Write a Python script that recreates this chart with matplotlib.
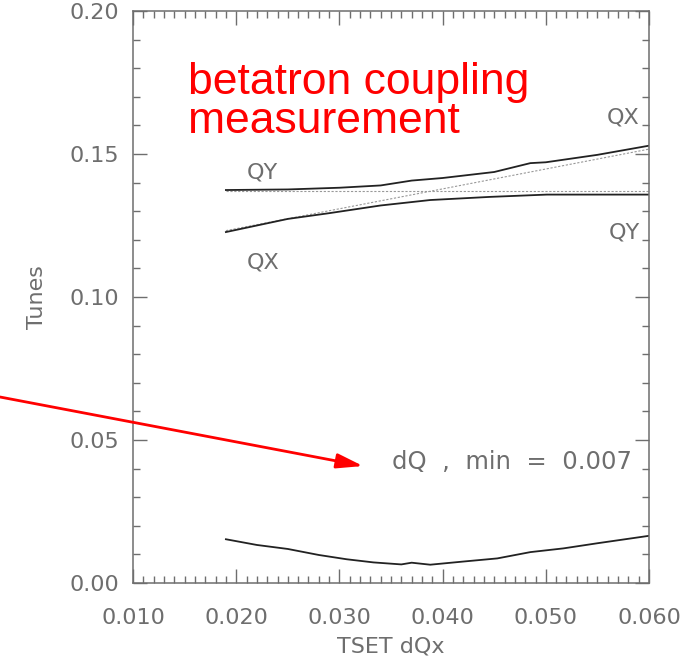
import matplotlib
matplotlib.use("Agg")
import matplotlib.pyplot as plt
from matplotlib.ticker import MultipleLocator

# measured coupled tunes vs. TSET dQx
tset_upper = [0.019, 0.025, 0.030, 0.034, 0.037, 0.040, 0.045, 0.0485, 0.050, 0.055, 0.060]
q_upper = [0.1374, 0.1376, 0.1382, 0.1390, 0.1407, 0.1416, 0.1437, 0.1468, 0.1471, 0.1497, 0.1529]

tset_lower = [0.019, 0.025, 0.029, 0.034, 0.0388, 0.0446, 0.0501, 0.055, 0.060]
q_lower = [0.1227, 0.1273, 0.1293, 0.1320, 0.1339, 0.1350, 0.1358, 0.1358, 0.1358]

# uncoupled (expected) tunes
tset_ref = [0.019, 0.060]
qx_ref = [0.1232, 0.1517]
qy_ref = [0.1371, 0.1371]

# tune split
tset_dq = [0.019, 0.022, 0.025, 0.028, 0.0307, 0.0333, 0.036, 0.037, 0.0388,
           0.042, 0.0453, 0.0485, 0.0517, 0.055, 0.060]
dq = [0.0153, 0.0133, 0.0119, 0.0098, 0.0083, 0.0072, 0.0065, 0.0071, 0.0064,
      0.0075, 0.0086, 0.0108, 0.0121, 0.0139, 0.0165]

GREY = "#6e6e6e"
LINE = "#222222"

fig = plt.figure(figsize=(6.99, 6.61), dpi=100)
ax = fig.add_axes([0.1903, 0.1180, 0.7382, 0.8654])

ax.plot(tset_ref, qx_ref, color="#999999", lw=0.8, ls=(0, (2, 1.5)))
ax.plot(tset_ref, qy_ref, color="#999999", lw=0.8, ls=(0, (2, 1.5)))
ax.plot(tset_upper, q_upper, color=LINE, lw=1.3)
ax.plot(tset_lower, q_lower, color=LINE, lw=1.3)
ax.plot(tset_dq, dq, color=LINE, lw=1.3)

ax.set_xlim(0.010, 0.060)
ax.set_ylim(0.0, 0.20)
ax.xaxis.set_major_locator(MultipleLocator(0.010))
ax.xaxis.set_minor_locator(MultipleLocator(0.001))
ax.yaxis.set_major_locator(MultipleLocator(0.05))
ax.yaxis.set_minor_locator(MultipleLocator(0.01))
ax.xaxis.set_major_formatter(plt.FormatStrFormatter("%.3f"))
ax.yaxis.set_major_formatter(plt.FormatStrFormatter("%.2f"))

ax.tick_params(which="both", direction="in", top=True, right=True,
               color=GREY, width=1, labelcolor=GREY, labelsize=16)
ax.tick_params(which="major", length=10)
ax.tick_params(which="minor", length=5)
ax.tick_params(axis="x", pad=18)
ax.tick_params(axis="y", pad=10)
for s in ax.spines.values():
    s.set_color(GREY)
    s.set_linewidth(1.1)

ax.set_xlabel("TSET dQx", color=GREY, fontsize=16, labelpad=6)
ax.set_ylabel("Tunes", color=GREY, fontsize=16, labelpad=16)

lab = dict(color=GREY, fontsize=16)
ax.text(0.0225, 0.1434, "QY", ha="center", va="center", **lab)
ax.text(0.0226, 0.1119, "QX", ha="center", va="center", **lab)
ax.text(0.0591, 0.1629, "QX", ha="right", va="center", **lab)
ax.text(0.0591, 0.1227, "QY", ha="right", va="center", **lab)
ax.text(0.0351, 0.0423, "dQ  ,  min  =  0.007", ha="left", va="center",
        color=GREY, fontsize=17.5)

ax.text(0.01533, 0.1822, "betatron coupling\nmeasurement", color="red",
        fontsize=32, family="Liberation Sans", ha="left", va="top",
        linespacing=0.93)

ax.annotate("", xy=(0.03229, 0.0409), xycoords="data",
            xytext=(0.0, 1 - 397 / 661), textcoords="figure fraction",
            arrowprops=dict(arrowstyle="-|>,head_length=1.6,head_width=0.45",
                            color="red", lw=2, shrinkA=0, shrinkB=0),
            annotation_clip=False)

fig.savefig("out.png", dpi=100)
